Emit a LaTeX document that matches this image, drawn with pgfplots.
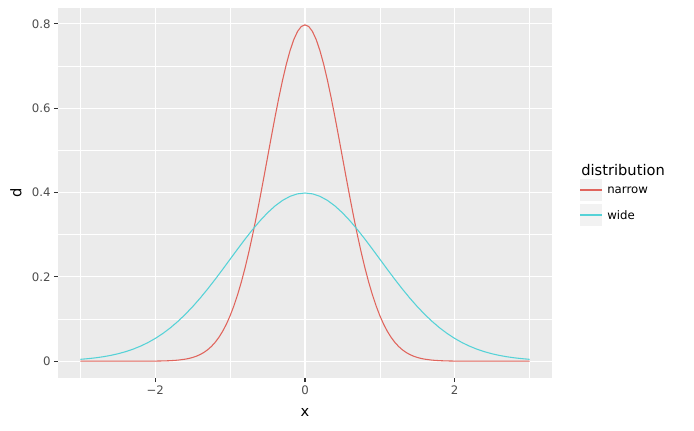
\documentclass[border=0pt]{standalone}
\usepackage{fontspec}
\setmainfont{DejaVu Sans}
\usepackage{pgfplots}
\pgfplotsset{compat=1.18}
\definecolor{panelbg}{HTML}{EBEBEB}
\definecolor{keybg}{HTML}{F2F2F2}
\definecolor{narrowc}{HTML}{E0645C}
\definecolor{widec}{HTML}{55D2D7}
\definecolor{tickc}{HTML}{333333}
\definecolor{labc}{HTML}{4D4D4D}
\begin{document}
\begin{tikzpicture}
\path (0,0) rectangle (520.5pt,322.5pt);
\begin{axis}[
  at={(43.5pt,39pt)}, anchor=south west,
  scale only axis, width=370.5pt, height=277.5pt,
  xmin=-3.3, xmax=3.3, ymin=-0.0399, ymax=0.8378,
  axis background/.style={fill=panelbg},
  axis line style={draw=none},
  xtick pos=bottom, ytick pos=left,
  xtick={-2,0,2}, xticklabels={−2,0,2},
  ytick={0,0.2,0.4,0.6,0.8}, yticklabels={0,0.2,0.4,0.6,0.8},
  minor xtick={-3,-1,1,3}, minor ytick={0.1,0.3,0.5,0.7},
  grid=both,
  major grid style={white, line width=0.8pt},
  minor grid style={white, line width=0.4pt},
  tick align=outside, major tick length=3pt, minor tick length=0pt,
  tick style={tickc, line width=0.8pt},
  ticklabel style={font=\fontsize{8.8pt}{10pt}\selectfont, text=labc},
  xticklabel style={yshift=1pt},
  yticklabel style={xshift=1pt},
  xlabel={x}, ylabel={d},
  label style={font=\fontsize{11pt}{13pt}\selectfont},
  xlabel style={at={(axis description cs:0.5,-0.092)}, anchor=center},
  ylabel style={at={(axis description cs:-0.085,0.5)}, anchor=center, rotate=0},
  clip=false,
]
\addplot[narrowc, line width=0.8pt] coordinates {
(-3,0) (-2.5,0.000003) (-2.2,0.00005) (-2,0.000268) (-1.9,0.000584) (-1.8,0.001224) (-1.7,0.002465) (-1.6,0.004768)
(-1.55,0.006529) (-1.5,0.008864) (-1.45,0.011906) (-1.4,0.015831) (-1.35,0.020842) (-1.3,0.027166) (-1.25,0.035056)
(-1.2,0.044789) (-1.15,0.056654) (-1.1,0.070949) (-1.05,0.087968) (-1,0.107982) (-0.95,0.131232) (-0.9,0.157900)
(-0.85,0.188098) (-0.8,0.221842) (-0.75,0.259035) (-0.7,0.299455) (-0.65,0.342737) (-0.6,0.388372) (-0.55,0.435704)
(-0.5,0.483941) (-0.45,0.532170) (-0.4,0.579383) (-0.35,0.624507) (-0.3,0.666449) (-0.25,0.704130) (-0.2,0.736540)
(-0.15,0.762775) (-0.1,0.782085) (-0.05,0.793906) (0,0.797885)
(0.05,0.793906) (0.1,0.782085) (0.15,0.762775) (0.2,0.736540) (0.25,0.704130) (0.3,0.666449) (0.35,0.624507)
(0.4,0.579383) (0.45,0.532170) (0.5,0.483941) (0.55,0.435704) (0.6,0.388372) (0.65,0.342737) (0.7,0.299455)
(0.75,0.259035) (0.8,0.221842) (0.85,0.188098) (0.9,0.157900) (0.95,0.131232) (1,0.107982) (1.05,0.087968)
(1.1,0.070949) (1.15,0.056654) (1.2,0.044789) (1.25,0.035056) (1.3,0.027166) (1.35,0.020842) (1.4,0.015831)
(1.45,0.011906) (1.5,0.008864) (1.55,0.006529) (1.6,0.004768) (1.7,0.002465) (1.8,0.001224) (1.9,0.000584)
(2,0.000268) (2.2,0.00005) (2.5,0.000003) (3,0)
};
\addplot[widec, line width=0.8pt] coordinates {
(-3,0.004432) (-2.9,0.005953) (-2.8,0.007915) (-2.7,0.010421) (-2.6,0.013583) (-2.5,0.017528) (-2.4,0.022395)
(-2.3,0.028327) (-2.2,0.035475) (-2.1,0.043984) (-2,0.053991) (-1.9,0.065616) (-1.8,0.078950) (-1.7,0.094049)
(-1.6,0.110921) (-1.5,0.129518) (-1.4,0.149727) (-1.3,0.171369) (-1.2,0.194186) (-1.1,0.217852) (-1,0.241971)
(-0.9,0.266085) (-0.8,0.289692) (-0.7,0.312254) (-0.6,0.333225) (-0.5,0.352065) (-0.4,0.368270) (-0.3,0.381388)
(-0.2,0.391043) (-0.1,0.396953) (0,0.398942)
(0.1,0.396953) (0.2,0.391043) (0.3,0.381388) (0.4,0.368270) (0.5,0.352065) (0.6,0.333225) (0.7,0.312254)
(0.8,0.289692) (0.9,0.266085) (1,0.241971) (1.1,0.217852) (1.2,0.194186) (1.3,0.171369) (1.4,0.149727)
(1.5,0.129518) (1.6,0.110921) (1.7,0.094049) (1.8,0.078950) (1.9,0.065616) (2,0.053991) (2.1,0.043984)
(2.2,0.035475) (2.3,0.028327) (2.4,0.022395) (2.5,0.017528) (2.6,0.013583) (2.7,0.010421) (2.8,0.007915)
(2.9,0.005953) (3,0.004432)
};
\end{axis}
% legend
\node[anchor=base west, inner sep=0pt, font=\fontsize{11pt}{13pt}\selectfont] at (435.75pt,191pt) {distribution};
\fill[keybg] (435pt,171.75pt) rectangle (451.5pt,188.25pt);
\draw[narrowc, line width=1.8pt] (435pt,180pt) -- (451.5pt,180pt);
\node[anchor=west, inner sep=0pt, font=\fontsize{8.8pt}{10pt}\selectfont] at (455.25pt,180pt) {narrow};
\fill[keybg] (435pt,153pt) rectangle (451.5pt,169.5pt);
\draw[widec, line width=1.8pt] (435pt,161.25pt) -- (451.5pt,161.25pt);
\node[anchor=west, inner sep=0pt, font=\fontsize{8.8pt}{10pt}\selectfont] at (455.25pt,161.25pt) {wide};
\end{tikzpicture}
\end{document}
